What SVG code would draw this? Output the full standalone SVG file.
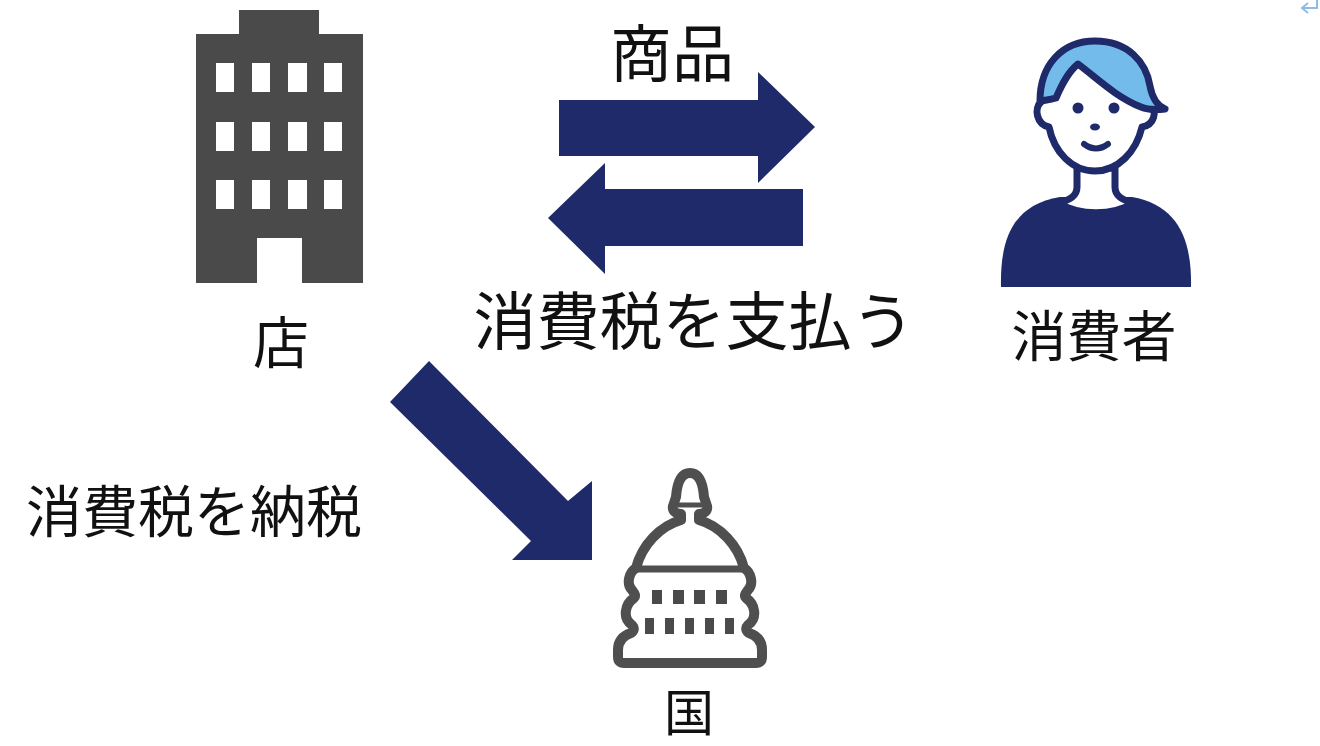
<svg xmlns="http://www.w3.org/2000/svg" width="1320" height="746" viewBox="0 0 1320 746">
<style>
.t{font-family:"Noto Sans CJK JP","Noto Sans",sans-serif;font-weight:400;fill:#111;text-anchor:middle}
.a{fill:#1f2a6b}
.g{fill:#4a4a4a}
.n{fill:#1f2a6b;stroke:none}
.l{stroke:#1f2a6b;stroke-width:7;stroke-linejoin:round;stroke-linecap:round;fill:#fff}
.c{stroke:#4f4f4f;stroke-width:10;stroke-linejoin:round;stroke-linecap:round;fill:#fff}
</style>
<rect width="1320" height="746" fill="#fff"/>
<g id="connectors">
<polygon class="a" points="559,100 758,100 758,72 815,127 758,183 758,156 559,156"/>
<polygon class="a" points="548,218 605,163 605,189 803,189 803,246 605,246 605,274"/>
<polygon class="a" points="390,402 429,361 568,501 592,481 592,560 512,560 531,541"/>
</g>
<g id="store">
<path class="g" fill-rule="evenodd" d="M239,10H319V34H363V283H302V238H257V283H196V34H239Z M216,63V92H234V63Z M252,63V92H270V63Z M288,63V92H307V63Z M324,63V92H342V63Z M216,122V151H234V122Z M252,122V151H270V122Z M288,122V151H307V122Z M324,122V151H342V122Z M216,180V209H234V180Z M252,180V209H270V180Z M288,180V209H307V180Z M324,180V209H342V180Z"/>
<text class="t" x="281" y="363" font-size="56">店</text>
</g>
<g id="consumer">
<path class="n" d="M1001,287C1000,240 1012,205 1060,197L1132,197C1178,205 1192,240 1191,287Z"/>
<path class="l" d="M1077,168V187C1077,196 1070,200 1058,203C1080,216 1112,216 1134,203C1122,200 1115,196 1115,187V168Z"/>
<path class="l" d="M1041,102C1034,108 1036,124 1049,127C1054,152 1072,171 1095,171C1118,171 1136,152 1142,127C1154,125 1158,112 1150,103"/>
<path class="l" style="fill:#72bbea" d="M1040,101C1040,65 1062,41 1095,41C1128,41 1146,62 1150,86C1152,97 1156,105 1165,109C1156,110 1148,110 1141,107C1116,97 1098,79 1078,64C1068,72 1062,84 1056,98C1050,100 1045,100 1040,101Z"/>
<circle class="n" cx="1078" cy="108" r="5.5"/>
<circle class="n" cx="1114" cy="108" r="5.5"/>
<ellipse class="n" cx="1095" cy="127" rx="5" ry="3.5"/>
<path d="M1084,144C1092,150 1100,150 1108,144" fill="none" stroke="#1f2a6b" stroke-width="6" stroke-linecap="round"/>
<text class="t" x="1094" y="356" font-size="55">消費者</text>
</g>
<g id="country">
<path class="c" d="M690,473C699,473 703,484 704,497L707,506C708,511 704,514 699,514V520C720,526 738,545 744,568C751,572 754,584 748,590C745,594 744,596 746,598C755,604 758,618 748,625C745,628 746,631 749,633C758,636 762,642 762,650V657C762,661 760,663 756,663H624C620,663 618,661 618,657V650C618,642 622,636 631,633C634,631 635,628 632,625C622,618 625,604 634,598C636,596 635,594 632,590C626,584 629,572 636,568C642,545 660,526 681,520V514C676,514 672,511 673,506L676,497C677,484 681,473 690,473Z"/>
<path d="M678,505H702" stroke="#4f4f4f" stroke-width="5" fill="none"/>
<path d="M637,569H743" stroke="#4f4f4f" stroke-width="7" fill="none"/>
<path class="g" d="M652,590h10v14h-10zM673,590h11v14h-11zM694,590h11v14h-11zM716,590h11v14h-11zM645,618h9v16h-9zM665,618h9v16h-9zM685,618h9v16h-9zM705,618h9v16h-9zM725,618h9v16h-9z"/>
<text class="t" x="689" y="731" font-size="50">国</text>
</g>
<g id="labels">
<text class="t" x="672" y="77" font-size="62">商品</text>
<text class="t" x="694" y="344" font-size="63">消費税を支払う</text>
<text class="t" x="194" y="532" font-size="56">消費税を納税</text>
</g>
<path id="return-mark" d="M1317,0V8H1303M1308,3L1302,8L1308,13" fill="none" stroke="#8fbce6" stroke-width="2"/>
</svg>
